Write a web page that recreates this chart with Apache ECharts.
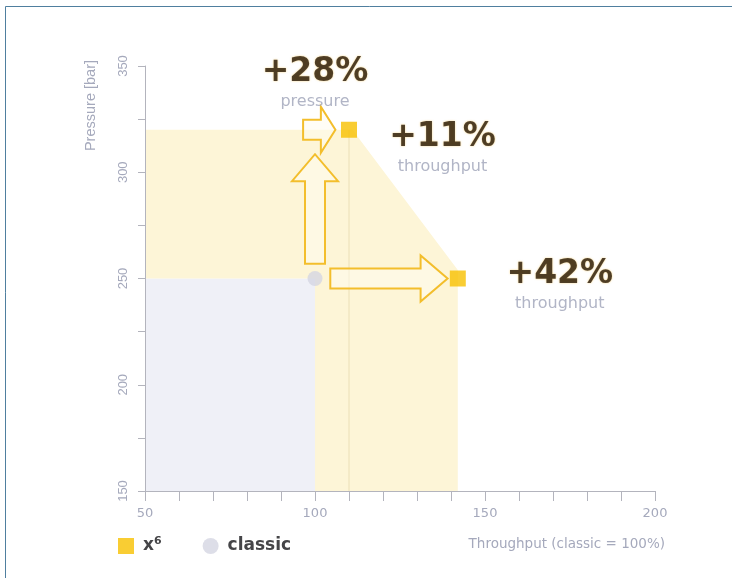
<!DOCTYPE html>
<html>
<head>
<meta charset="utf-8">
<script src="https://cdn.jsdelivr.net/npm/echarts@6/dist/echarts.min.js"></script>
<style>
  html, body { margin: 0; padding: 0; background: #fff; }
  #chart { width: 732px; height: 578px; }
</style>
</head>
<body>
<div id="chart"></div>
<script>
// axis ticks
const xTicks = [50, 100, 150, 200]
const yTicks = [150, 200, 250, 300, 350]

// operating points (throughput %, pressure bar)
const x6Points = [[110, 320], [142, 250]]
const classicPoints = [[100, 250]]

// operating ranges, polygon corners in data units
const classicRange = [[50, 150], [50, 250], [100, 250], [100, 150]]
const x6Range = [[50, 250], [50, 320], [111, 320], [142, 254], [142, 150], [100, 150], [100, 250]]

// arrows, tail -> tip
const arrowFrom = [[100, 257], [96.5, 320], [104.5, 250]]
const arrowTo = [[100, 308.5], [106, 320], [139, 250]]

// callouts
const calloutPos = [[100, 342.6], [137.5, 312.1], [172, 247.6]]
const calloutValue = ['+28%', '+11%', '+42%']
const calloutText = ['pressure', 'throughput', 'throughput']

const ranges = [classicRange, x6Range]
const rangeColors = ['#eff0f7', '#fdf5d7']

const wideFont = 'DejaVu Sans'
const axisFont = 'Liberation Sans'
const axisGray = '#b3b4bd'
const labelGray = '#a5a9bc'

const chart = echarts.init(document.getElementById('chart'))

function renderRange(params, api) {
  const poly = ranges[params.dataIndex]
  return {
    type: 'polygon',
    shape: { points: poly.map(p => api.coord(p)) },
    style: { fill: rangeColors[params.dataIndex] }
  }
}

function renderDrop(params, api) {
  const top = api.coord([api.value(0), api.value(1)])
  const bottom = api.coord([api.value(0), yTicks[0]])
  return {
    type: 'line',
    shape: { x1: top[0], y1: top[1], x2: bottom[0], y2: bottom[1] },
    style: { stroke: '#ebdfb6', lineWidth: 1 }
  }
}

function renderArrow(params, api) {
  const i = params.dataIndex
  const a = api.coord(arrowFrom[i])
  const b = api.coord(arrowTo[i])
  const dx = b[0] - a[0], dy = b[1] - a[1]
  const len = Math.hypot(dx, dy)
  const ux = dx / len, uy = dy / len
  const nx = -uy, ny = ux
  const s = 10, h = 23
  const L = Math.min(27, len * 0.45)
  const bx = b[0] - ux * L, by = b[1] - uy * L
  const pts = [
    [a[0] + nx * s, a[1] + ny * s],
    [bx + nx * s, by + ny * s],
    [bx + nx * h, by + ny * h],
    b,
    [bx - nx * h, by - ny * h],
    [bx - nx * s, by - ny * s],
    [a[0] - nx * s, a[1] - ny * s]
  ]
  return {
    type: 'polygon',
    shape: { points: pts },
    style: { fill: 'rgba(255,252,238,0.55)', stroke: '#f3be2c', lineWidth: 2, lineJoin: 'miter' }
  }
}

chart.setOption({
  animation: false,
  grid: { left: 145, right: 77, top: 66, bottom: 87 },
  graphic: [{
    type: 'rect',
    silent: true,
    shape: { x: 5.5, y: 6.5, width: 760, height: 620 },
    style: { fill: 'none', stroke: '#4f7f9f', lineWidth: 1 }
  }],
  legend: {
    left: 113,
    top: 531,
    itemWidth: 16,
    itemHeight: 16,
    itemGap: 41,
    data: [{ name: 'x6', icon: 'rect' }, { name: 'classic', icon: 'circle' }],
    formatter: name => name === 'x6' ? 'x{sup|6}' : name,
    textStyle: {
      fontFamily: wideFont, fontSize: 17, fontWeight: 'bold', color: '#454548',
      padding: [0, 0, 0, 4],
      rich: {
        sup: { fontFamily: wideFont, fontSize: 11, fontWeight: 'bold', color: '#454548', padding: [0, 0, 9, 0] }
      }
    }
  },
  xAxis: {
    type: 'value',
    z: 10,
    min: xTicks[0],
    max: xTicks[xTicks.length - 1],
    interval: xTicks[1] - xTicks[0],
    name: 'Throughput (classic = 100%)',
    nameLocation: 'end',
    nameGap: 10,
    nameTextStyle: {
      fontFamily: wideFont, fontSize: 13.5, color: labelGray,
      align: 'right', verticalAlign: 'top', padding: [46, 0, 0, 0]
    },
    axisLine: { lineStyle: { color: axisGray } },
    axisTick: { length: 10, lineStyle: { color: axisGray } },
    minorTick: { show: true, splitNumber: 5, length: 10, lineStyle: { color: axisGray } },
    splitLine: { show: false },
    axisLabel: { fontFamily: wideFont, fontSize: 13, color: labelGray, margin: 16 }
  },
  yAxis: {
    type: 'value',
    z: 10,
    min: yTicks[0],
    max: yTicks[yTicks.length - 1],
    interval: yTicks[1] - yTicks[0],
    name: 'Pressure [bar]',
    nameLocation: 'end',
    nameRotate: 90,
    nameGap: 6,
    nameTextStyle: {
      fontFamily: axisFont, fontSize: 14.5, color: labelGray,
      align: 'right', verticalAlign: 'bottom', padding: [0, 0, 47, 0]
    },
    axisLine: { show: true, lineStyle: { color: axisGray } },
    axisTick: { show: true, length: 7, lineStyle: { color: axisGray } },
    minorTick: { show: true, splitNumber: 2, length: 7, lineStyle: { color: axisGray } },
    splitLine: { show: false },
    axisLabel: { rotate: 90, fontFamily: axisFont, fontSize: 13, color: labelGray, margin: 15 }
  },
  series: [
    {
      type: 'custom',
      name: 'ranges',
      silent: true,
      z: 1,
      renderItem: renderRange,
      data: ranges.map(r => r[0])
    },
    {
      type: 'custom',
      name: 'drop',
      silent: true,
      z: 2,
      renderItem: renderDrop,
      data: x6Points.slice(0, 1)
    },
    {
      type: 'custom',
      name: 'arrows',
      silent: true,
      z: 3,
      renderItem: renderArrow,
      data: arrowFrom
    },
    {
      type: 'scatter',
      name: 'x6',
      z: 5,
      symbol: 'rect',
      symbolSize: 16,
      itemStyle: { color: '#f8c000' },
      data: x6Points
    },
    {
      type: 'scatter',
      name: 'classic',
      z: 5,
      symbol: 'circle',
      symbolSize: 15,
      itemStyle: { color: '#d4d6e2' },
      data: classicPoints
    },
    {
      type: 'scatter',
      name: 'callouts',
      silent: true,
      z: 6,
      symbolSize: 1,
      itemStyle: { color: 'transparent' },
      label: {
        show: true,
        position: 'inside',
        align: 'center',
        rich: {
          v: {
            fontFamily: wideFont, fontSize: 33, fontWeight: 'bold', color: '#24160a',
            lineHeight: 40, textShadowColor: 'rgba(240,170,0,0.65)', textShadowBlur: 2
          },
          t: { fontFamily: wideFont, fontSize: 16, color: '#9da2b8', lineHeight: 18 }
        }
      },
      data: calloutPos.map((p, i) => ({
        value: p,
        label: { formatter: '{v|' + calloutValue[i] + '}\n{t|' + calloutText[i] + '}' }
      }))
    }
  ]
})
</script>
</body>
</html>
